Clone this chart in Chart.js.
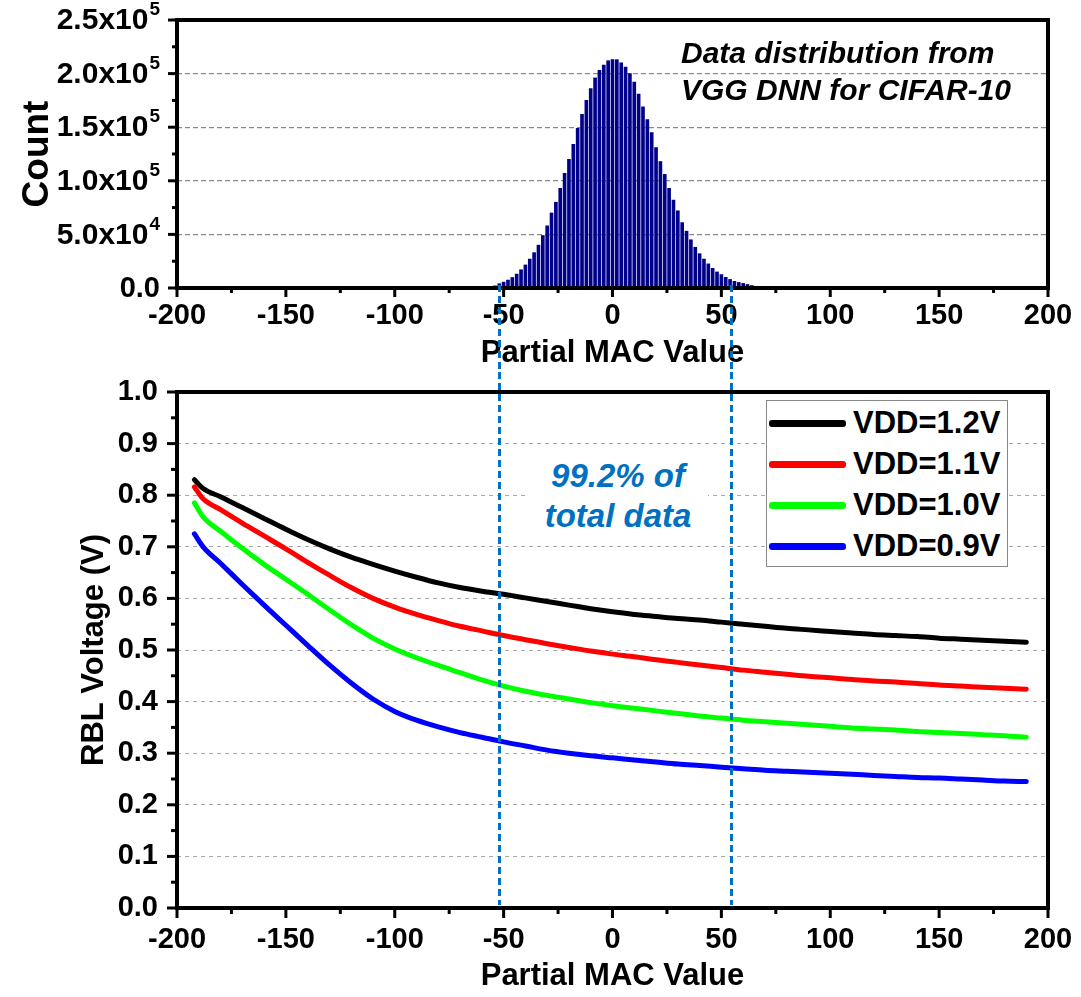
<!DOCTYPE html>
<html>
<head>
<meta charset="utf-8">
<script src="https://cdn.jsdelivr.net/npm/chart.js@4.4.1/dist/chart.umd.min.js"></script>
<style>
html, body { margin: 0; padding: 0; background: #fff; }
#wrap { position: relative; width: 1081px; height: 997px; overflow: hidden; font-family: "Liberation Sans", Arial, sans-serif; }
#topChart { position: absolute; left: 0; top: 0; }
#botChart { position: absolute; left: 0; top: 372px; }
.note { position: absolute; font-weight: bold; font-style: italic; white-space: nowrap; }
#dataNote { left: 681px; top: 34px; font-size: 30px; line-height: 37px; color: #000; }
#rangeNote { left: 528px; top: 456px; width: 180px; font-size: 33px; line-height: 40px; color: #0070c0; text-align: center; background: #fff; }
#legend { position: absolute; left: 766px; top: 400px; width: 240px; height: 165px; border: 1px solid #888; background: #fff; }
#legend .row { position: absolute; left: 0; height: 40px; width: 240px; }
#legend .swatch { position: absolute; left: 2px; top: 17px; width: 77px; height: 7px; border-radius: 3px; }
#legend .lbl { position: absolute; left: 86px; top: 0; font-size: 31px; line-height: 40px; font-weight: bold; color: #000; }
</style>
</head>
<body>
<div id="wrap">
  <canvas id="topChart" width="1081" height="372"></canvas>
  <canvas id="botChart" width="1081" height="625"></canvas>
  <div id="dataNote" class="note">Data distribution from<br>VGG DNN for CIFAR-10</div>
  <div id="rangeNote" class="note">99.2% of<br>total data</div>
  <div id="legend"></div>
</div>
<script>
// histogram of partial MAC values
const histX = [-56, -54, -52, -50, -48, -46, -44, -42, -40, -38, -36, -34, -32, -30, -28, -26, -24, -22, -20, -18, -16, -14, -12, -10, -8, -6, -4, -2,
  0, 2, 4, 6, 8, 10, 12, 14, 16, 18, 20, 22, 24, 26, 28, 30, 32, 34, 36, 38, 40, 42, 44, 46, 48, 50, 52, 54, 56, 58, 60, 62, 64, 66];
const histCount = [800, 2000, 4000, 5500, 7400, 9800, 13000, 17000, 21500, 27000, 33000, 40000, 49000, 58000, 70000, 80000, 93000, 107000, 120000, 134000, 149000, 162000, 175000, 186000, 196000, 203000, 208000, 212000,
  213000, 213000, 210000, 206000, 200000, 192000, 181000, 169000, 157000, 145000, 131000, 118000, 106000, 93000, 82000, 72000, 61000, 53000, 45000, 38000, 32000, 27000, 22500, 18400, 15000, 12500, 10000, 8000, 6200, 5200, 4300, 3300, 2300, 1200];

// RBL voltage vs partial MAC value
const macX = [-192, -188, -180, -170, -160, -150, -140, -130, -120, -110, -100, -90, -80, -70, -60, -50, -40, -30, -20, -10,
  0, 10, 20, 30, 40, 50, 60, 70, 80, 90, 100, 110, 120, 130, 140, 150, 160, 170, 180, 190];
const vdd12 = [0.830, 0.813, 0.797, 0.776, 0.755, 0.734, 0.714, 0.696, 0.680, 0.666, 0.653, 0.641, 0.630, 0.621, 0.614, 0.608, 0.601, 0.594, 0.587, 0.580,
  0.574, 0.569, 0.565, 0.561, 0.558, 0.554, 0.550, 0.546, 0.542, 0.539, 0.536, 0.533, 0.530, 0.528, 0.526, 0.523, 0.521, 0.519, 0.517, 0.515];
const vdd11 = [0.816, 0.793, 0.772, 0.746, 0.721, 0.696, 0.670, 0.645, 0.621, 0.600, 0.583, 0.569, 0.557, 0.546, 0.537, 0.528, 0.520, 0.512, 0.505, 0.498,
  0.492, 0.487, 0.481, 0.476, 0.471, 0.466, 0.461, 0.457, 0.453, 0.449, 0.446, 0.443, 0.440, 0.438, 0.435, 0.432, 0.430, 0.428, 0.426, 0.424];
const vdd10 = [0.785, 0.758, 0.730, 0.697, 0.666, 0.637, 0.608, 0.578, 0.549, 0.523, 0.502, 0.485, 0.470, 0.456, 0.442, 0.430, 0.420, 0.412, 0.405, 0.398,
  0.392, 0.387, 0.382, 0.377, 0.372, 0.368, 0.364, 0.361, 0.358, 0.355, 0.352, 0.349, 0.347, 0.345, 0.342, 0.340, 0.338, 0.336, 0.334, 0.331];
const vdd09 = [0.725, 0.700, 0.668, 0.627, 0.587, 0.548, 0.509, 0.471, 0.436, 0.405, 0.381, 0.364, 0.351, 0.340, 0.331, 0.322, 0.314, 0.306, 0.300, 0.295,
  0.291, 0.287, 0.283, 0.279, 0.276, 0.273, 0.270, 0.267, 0.265, 0.263, 0.261, 0.259, 0.257, 0.255, 0.253, 0.252, 0.250, 0.248, 0.246, 0.245];

const seriesNames = ['VDD=1.2V', 'VDD=1.1V', 'VDD=1.0V', 'VDD=0.9V'];
const seriesValues = [vdd12, vdd11, vdd10, vdd09];
const seriesColors = ['#000000', '#ff0000', '#00ff00', '#0000ff'];

const countTicks = [0, 50000, 100000, 150000, 200000, 250000];
const rangeBounds = [-52, 54.5];   // 99.2% window

const FONT = '"Liberation Sans", Arial, sans-serif';

// thick box frame with major / minor ticks
const framePlugin = {
  id: 'frame',
  afterDraw(chart, args, o) {
    const { ctx, chartArea: a, scales: { x, y } } = chart;
    ctx.save();
    ctx.strokeStyle = '#000';
    ctx.lineWidth = 3;
    for (let v = x.min; v <= x.max + 1e-9; v += o.xMinor) {
      const px = x.getPixelForValue(v);
      const major = Math.abs(v / o.xMajor - Math.round(v / o.xMajor)) < 1e-6;
      ctx.beginPath();
      ctx.moveTo(px, a.bottom);
      ctx.lineTo(px, a.bottom + (major ? o.majorLen : o.minorLen));
      ctx.stroke();
    }
    for (let v = y.min; v <= y.max + 1e-9; v += o.yMinor) {
      const py = y.getPixelForValue(v);
      const major = Math.abs(v / o.yMajor - Math.round(v / o.yMajor)) < 1e-6;
      ctx.beginPath();
      ctx.moveTo(a.left, py);
      ctx.lineTo(a.left - (major ? o.majorLen : o.minorLen), py);
      ctx.stroke();
    }
    ctx.lineWidth = o.width;
    ctx.strokeRect(a.left, a.top, a.right - a.left, a.bottom - a.top);
    ctx.restore();
  }
};

// dotted blue lines marking the 99.2% window, running across both panels
const rangePlugin = {
  id: 'macRange',
  afterDraw(chart, args, o) {
    const { ctx, chartArea: a, scales: { x } } = chart;
    ctx.save();
    ctx.strokeStyle = '#0070c0';
    ctx.lineWidth = 3;
    ctx.setLineDash([7, 4]);
    rangeBounds.forEach(v => {
      const px = Math.round(x.getPixelForValue(v)) + 0.5;
      ctx.beginPath();
      if (o.from === 'bottom') {
        ctx.moveTo(px, a.bottom - 3);
        ctx.lineTo(px, chart.height);
      } else {
        ctx.moveTo(px, 0);
        ctx.lineTo(px, a.bottom - 3);
      }
      ctx.stroke();
    });
    ctx.restore();
  }
};

// "2.0x10^5" style labels on the count axis
const sciLabels = {
  id: 'sciLabels',
  afterDraw(chart) {
    const { ctx, scales: { y } } = chart;
    const right = y.right - 17;
    ctx.save();
    ctx.fillStyle = '#000';
    ctx.textBaseline = 'middle';
    countTicks.forEach(v => {
      const py = y.getPixelForValue(v);
      if (v === 0) {
        ctx.font = 'bold 29px ' + FONT;
        ctx.textAlign = 'right';
        ctx.fillText('0.0', right, py + 1);
        return;
      }
      const exp = Math.floor(Math.log10(v) + 1e-9);
      const mant = (v / Math.pow(10, exp)).toFixed(1);
      ctx.font = 'bold 19px ' + FONT;
      const e = String(exp);
      const sw = ctx.measureText(e).width;
      ctx.textAlign = 'left';
      ctx.fillText(e, right - sw, py - 10);
      ctx.font = 'bold 30px ' + FONT;
      ctx.textAlign = 'right';
      ctx.fillText(mant + 'x10', right - sw - 1, py + 1);
    });
    ctx.restore();
  }
};

const tickFont = { family: FONT, size: 29, weight: 'bold' };
const noPad = s => { s.paddingTop = 0; s.paddingBottom = 0; s.paddingLeft = 0; s.paddingRight = 0; };

new Chart(document.getElementById('topChart'), {
  type: 'bar',
  data: {
    datasets: [{
      data: histX.map((v, i) => ({ x: v, y: histCount[i] })),
      backgroundColor: '#00008b',
      borderWidth: 0,
      barThickness: 3
    }]
  },
  options: {
    responsive: false,
    animation: false,
    layout: { padding: { top: 20, right: 33, left: 0, bottom: 0 } },
    plugins: {
      legend: { display: false },
      tooltip: { enabled: false },
      frame: { width: 4, majorLen: 9, minorLen: 5, xMajor: 50, xMinor: 25, yMajor: 50000, yMinor: 25000 },
      macRange: { from: 'bottom' }
    },
    scales: {
      x: {
        type: 'linear', min: -200, max: 200, offset: false,
        grid: { display: false, drawTicks: false },
        border: { display: false },
        ticks: { stepSize: 50, padding: 11, color: '#000', font: tickFont, maxRotation: 0 },
        title: { display: true, text: 'Partial MAC Value', color: '#000', font: { family: FONT, size: 31, weight: 'bold' }, padding: { top: 0, bottom: 0 } },
        afterFit: s => { noPad(s); s.height = 84; }
      },
      y: {
        min: 0, max: 250000,
        grid: {
          drawTicks: false, lineWidth: 1.2,
          color: c => (c.tick && c.tick.value > 0 && c.tick.value < 250000) ? '#8a8a8a' : 'rgba(0,0,0,0)'
        },
        border: { display: false, dash: [5, 3] },
        ticks: { stepSize: 50000, callback: () => '' },
        title: { display: true, text: 'Count', color: '#000', font: { family: FONT, size: 37, weight: 'bold' }, padding: { top: 16, bottom: 0 } },
        afterFit: s => { noPad(s); s.width = 177; }
      }
    }
  },
  plugins: [framePlugin, rangePlugin, sciLabels]
});

new Chart(document.getElementById('botChart'), {
  type: 'line',
  data: {
    datasets: seriesValues.map((vals, k) => ({
      label: seriesNames[k],
      data: macX.map((v, i) => ({ x: v, y: vals[i] })),
      borderColor: seriesColors[k],
      backgroundColor: seriesColors[k],
      borderWidth: 5,
      borderCapStyle: 'round',
      borderJoinStyle: 'round',
      pointRadius: 0,
      cubicInterpolationMode: 'monotone',
      fill: false
    }))
  },
  options: {
    responsive: false,
    animation: false,
    layout: { padding: { top: 20, right: 33, left: 0, bottom: 0 } },
    plugins: {
      legend: { display: false },
      tooltip: { enabled: false },
      frame: { width: 4, majorLen: 10, minorLen: 6, xMajor: 50, xMinor: 25, yMajor: 0.1, yMinor: 0.05 },
      macRange: { from: 'top' }
    },
    scales: {
      x: {
        type: 'linear', min: -200, max: 200,
        grid: { display: false, drawTicks: false },
        border: { display: false },
        ticks: { stepSize: 50, padding: 15, color: '#000', font: tickFont, maxRotation: 0 },
        title: { display: true, text: 'Partial MAC Value', color: '#000', font: { family: FONT, size: 31, weight: 'bold' }, padding: { top: 0, bottom: 2 } },
        afterFit: s => { noPad(s); s.height = 89; }
      },
      y: {
        min: 0, max: 1,
        grid: {
          drawTicks: false, lineWidth: 1,
          color: c => (c.tick && c.tick.value > 0.01 && c.tick.value < 0.99) ? '#a8a8a8' : 'rgba(0,0,0,0)'
        },
        border: { display: false, dash: [4, 4] },
        ticks: { stepSize: 0.1, padding: 19, color: '#000', font: tickFont, callback: v => v.toFixed(1) },
        title: { display: true, text: 'RBL Voltage (V)', color: '#000', font: { family: FONT, size: 31, weight: 'bold' }, padding: { top: 76, bottom: 0 } },
        afterFit: s => { noPad(s); s.width = 177; }
      }
    }
  },
  plugins: [framePlugin, rangePlugin]
});

// legend box
const legend = document.getElementById('legend');
seriesNames.forEach((name, k) => {
  const row = document.createElement('div');
  row.className = 'row';
  row.style.top = (2 + k * 41) + 'px';
  const sw = document.createElement('div');
  sw.className = 'swatch';
  sw.style.background = seriesColors[k];
  const lbl = document.createElement('div');
  lbl.className = 'lbl';
  lbl.textContent = name;
  row.appendChild(sw);
  row.appendChild(lbl);
  legend.appendChild(row);
});
</script>
</body>
</html>
